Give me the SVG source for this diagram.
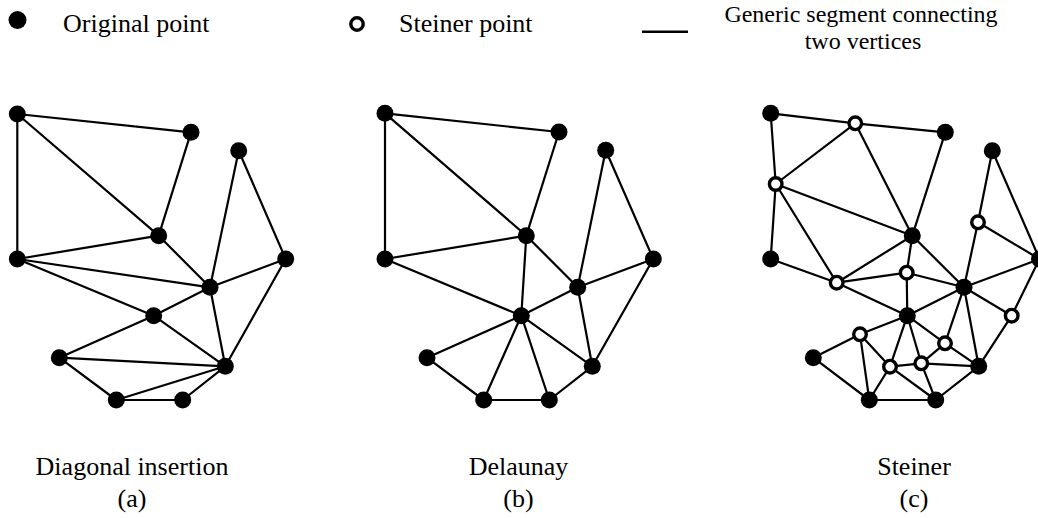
<svg xmlns="http://www.w3.org/2000/svg" width="1038" height="518" viewBox="0 0 1038 518">
  <style>
    .edge line { stroke: #000; stroke-width: 2.2; stroke-linecap: round; }
    .orig { fill: #000; }
    .stein { fill: #fff; stroke: #000; stroke-width: 3.4; }
    .lbl { font-family: 'Liberation Serif', 'Times New Roman', 'DejaVu Serif', serif; font-size: 26px; fill: #000; }
    .mid { text-anchor: middle; }
    .two-line { font-size: 24px; }
  </style>
  <rect width="1038" height="518" fill="#fff"/>

  <!-- Legend -->
  <g id="legend" class="lbl" font-family="Liberation Serif, Times New Roman, serif">
    <g id="legend-original">
      <circle class="orig" cx="17.5" cy="20" r="9"/>
      <text x="63" y="32">Original point</text>
    </g>
    <g id="legend-steiner">
      <circle class="stein" cx="357" cy="24" r="6.2" stroke-width="3.6"/>
      <text x="399" y="32">Steiner point</text>
    </g>
    <g id="legend-segment">
      <line x1="642" y1="31.7" x2="688" y2="31.7" stroke="#000" stroke-width="2.5"/>
      <text class="mid two-line" x="861" y="22">Generic segment connecting</text>
      <text class="mid two-line" x="863" y="49">two vertices</text>
    </g>
  </g>

  <!-- (a) Diagonal insertion -->
  <g id="connectors-a" class="edge">
    <line x1="17.3" y1="114" x2="191" y2="132.3"/>
    <line x1="17.3" y1="114" x2="17.3" y2="259"/>
    <line x1="17.3" y1="114" x2="158.7" y2="235.7"/>
    <line x1="191" y1="132.3" x2="158.7" y2="235.7"/>
    <line x1="238.7" y1="150.7" x2="210" y2="287.3"/>
    <line x1="238.7" y1="150.7" x2="285.7" y2="259"/>
    <line x1="158.7" y1="235.7" x2="17.3" y2="259"/>
    <line x1="158.7" y1="235.7" x2="210" y2="287.3"/>
    <line x1="17.3" y1="259" x2="210" y2="287.3"/>
    <line x1="17.3" y1="259" x2="153.7" y2="315.7"/>
    <line x1="285.7" y1="259" x2="210" y2="287.3"/>
    <line x1="285.7" y1="259" x2="225.3" y2="366.3"/>
    <line x1="210" y1="287.3" x2="153.7" y2="315.7"/>
    <line x1="210" y1="287.3" x2="225.3" y2="366.3"/>
    <line x1="153.7" y1="315.7" x2="59.3" y2="357.7"/>
    <line x1="153.7" y1="315.7" x2="225.3" y2="366.3"/>
    <line x1="59.3" y1="357.7" x2="225.3" y2="366.3"/>
    <line x1="59.3" y1="357.7" x2="116.3" y2="400"/>
    <line x1="116.3" y1="400" x2="225.3" y2="366.3"/>
    <line x1="116.3" y1="400" x2="182.7" y2="400"/>
    <line x1="182.7" y1="400" x2="225.3" y2="366.3"/>
  </g>
  <g id="nodes-a">
    <g id="a1"><circle class="orig" cx="17.3" cy="114" r="8.5"/></g>
    <g id="a2"><circle class="orig" cx="191" cy="132.3" r="8.5"/></g>
    <g id="a3"><circle class="orig" cx="238.7" cy="150.7" r="8.5"/></g>
    <g id="a4"><circle class="orig" cx="158.7" cy="235.7" r="8.5"/></g>
    <g id="a5"><circle class="orig" cx="17.3" cy="259" r="8.5"/></g>
    <g id="a6"><circle class="orig" cx="285.7" cy="259" r="8.5"/></g>
    <g id="a7"><circle class="orig" cx="210" cy="287.3" r="8.5"/></g>
    <g id="a8"><circle class="orig" cx="153.7" cy="315.7" r="8.5"/></g>
    <g id="a9"><circle class="orig" cx="59.3" cy="357.7" r="8.5"/></g>
    <g id="a10"><circle class="orig" cx="225.3" cy="366.3" r="8.5"/></g>
    <g id="a11"><circle class="orig" cx="116.3" cy="400" r="8.5"/></g>
    <g id="a12"><circle class="orig" cx="182.7" cy="400" r="8.5"/></g>
  </g>
  <g id="caption-a" class="lbl mid" font-family="Liberation Serif, Times New Roman, serif">
    <text x="132" y="475">Diagonal insertion</text>
    <text x="132" y="507">(a)</text>
  </g>

  <!-- (b) Delaunay -->
  <g id="connectors-b" class="edge">
    <line x1="385" y1="113.3" x2="559" y2="132"/>
    <line x1="385" y1="113.3" x2="385" y2="259"/>
    <line x1="385" y1="113.3" x2="526.3" y2="235.7"/>
    <line x1="559" y1="132" x2="526.3" y2="235.7"/>
    <line x1="605.7" y1="150.3" x2="577.7" y2="287.3"/>
    <line x1="605.7" y1="150.3" x2="653.3" y2="259"/>
    <line x1="526.3" y1="235.7" x2="385" y2="259"/>
    <line x1="526.3" y1="235.7" x2="521.3" y2="315.7"/>
    <line x1="526.3" y1="235.7" x2="577.7" y2="287.3"/>
    <line x1="385" y1="259" x2="521.3" y2="315.7"/>
    <line x1="653.3" y1="259" x2="577.7" y2="287.3"/>
    <line x1="653.3" y1="259" x2="592.3" y2="366.3"/>
    <line x1="577.7" y1="287.3" x2="521.3" y2="315.7"/>
    <line x1="577.7" y1="287.3" x2="592.3" y2="366.3"/>
    <line x1="521.3" y1="315.7" x2="427" y2="357.7"/>
    <line x1="521.3" y1="315.7" x2="483.7" y2="400"/>
    <line x1="521.3" y1="315.7" x2="549.3" y2="400"/>
    <line x1="521.3" y1="315.7" x2="592.3" y2="366.3"/>
    <line x1="427" y1="357.7" x2="483.7" y2="400"/>
    <line x1="483.7" y1="400" x2="549.3" y2="400"/>
    <line x1="549.3" y1="400" x2="592.3" y2="366.3"/>
  </g>
  <g id="nodes-b">
    <g id="b1"><circle class="orig" cx="385" cy="113.3" r="8.5"/></g>
    <g id="b2"><circle class="orig" cx="559" cy="132" r="8.5"/></g>
    <g id="b3"><circle class="orig" cx="605.7" cy="150.3" r="8.5"/></g>
    <g id="b4"><circle class="orig" cx="526.3" cy="235.7" r="8.5"/></g>
    <g id="b5"><circle class="orig" cx="385" cy="259" r="8.5"/></g>
    <g id="b6"><circle class="orig" cx="653.3" cy="259" r="8.5"/></g>
    <g id="b7"><circle class="orig" cx="577.7" cy="287.3" r="8.5"/></g>
    <g id="b8"><circle class="orig" cx="521.3" cy="315.7" r="8.5"/></g>
    <g id="b9"><circle class="orig" cx="427" cy="357.7" r="8.5"/></g>
    <g id="b10"><circle class="orig" cx="592.3" cy="366.3" r="8.5"/></g>
    <g id="b11"><circle class="orig" cx="483.7" cy="400" r="8.5"/></g>
    <g id="b12"><circle class="orig" cx="549.3" cy="400" r="8.5"/></g>
  </g>
  <g id="caption-b" class="lbl mid" font-family="Liberation Serif, Times New Roman, serif">
    <text x="518.5" y="475">Delaunay</text>
    <text x="518.5" y="507">(b)</text>
  </g>

  <!-- (c) Steiner -->
  <g id="connectors-c" class="edge">
    <line x1="770.7" y1="113.3" x2="855.3" y2="123.3"/>
    <line x1="855.3" y1="123.3" x2="945.3" y2="132.3"/>
    <line x1="770.7" y1="113.3" x2="775.7" y2="184"/>
    <line x1="775.7" y1="184" x2="770.7" y2="259"/>
    <line x1="855.3" y1="123.3" x2="775.7" y2="184"/>
    <line x1="855.3" y1="123.3" x2="912.3" y2="235.7"/>
    <line x1="945.3" y1="132.3" x2="912.3" y2="235.7"/>
    <line x1="775.7" y1="184" x2="912.3" y2="235.7"/>
    <line x1="775.7" y1="184" x2="836.7" y2="282.7"/>
    <line x1="770.7" y1="259" x2="836.7" y2="282.7"/>
    <line x1="836.7" y1="282.7" x2="912.3" y2="235.7"/>
    <line x1="836.7" y1="282.7" x2="906.7" y2="272.7"/>
    <line x1="836.7" y1="282.7" x2="907.3" y2="315.7"/>
    <line x1="912.3" y1="235.7" x2="906.7" y2="272.7"/>
    <line x1="912.3" y1="235.7" x2="964" y2="287.3"/>
    <line x1="906.7" y1="272.7" x2="964" y2="287.3"/>
    <line x1="906.7" y1="272.7" x2="907.3" y2="315.7"/>
    <line x1="992.3" y1="150.7" x2="978" y2="222.3"/>
    <line x1="992.3" y1="150.7" x2="1039.5" y2="259"/>
    <line x1="978" y1="222.3" x2="964" y2="287.3"/>
    <line x1="978" y1="222.3" x2="1039.5" y2="259"/>
    <line x1="1039.5" y1="259" x2="964" y2="287.3"/>
    <line x1="1039.5" y1="259" x2="1011.7" y2="315.7"/>
    <line x1="964" y1="287.3" x2="1011.7" y2="315.7"/>
    <line x1="964" y1="287.3" x2="907.3" y2="315.7"/>
    <line x1="964" y1="287.3" x2="945" y2="343.3"/>
    <line x1="964" y1="287.3" x2="978.7" y2="366.3"/>
    <line x1="1011.7" y1="315.7" x2="978.7" y2="366.3"/>
    <line x1="907.3" y1="315.7" x2="860" y2="334.3"/>
    <line x1="907.3" y1="315.7" x2="890" y2="366.7"/>
    <line x1="907.3" y1="315.7" x2="921.3" y2="363.3"/>
    <line x1="907.3" y1="315.7" x2="945" y2="343.3"/>
    <line x1="860" y1="334.3" x2="813.3" y2="357.7"/>
    <line x1="860" y1="334.3" x2="890" y2="366.7"/>
    <line x1="860" y1="334.3" x2="869.3" y2="400"/>
    <line x1="813.3" y1="357.7" x2="869.3" y2="400"/>
    <line x1="890" y1="366.7" x2="869.3" y2="400"/>
    <line x1="890" y1="366.7" x2="921.3" y2="363.3"/>
    <line x1="890" y1="366.7" x2="935.7" y2="400"/>
    <line x1="921.3" y1="363.3" x2="945" y2="343.3"/>
    <line x1="921.3" y1="363.3" x2="935.7" y2="400"/>
    <line x1="921.3" y1="363.3" x2="978.7" y2="366.3"/>
    <line x1="945" y1="343.3" x2="978.7" y2="366.3"/>
    <line x1="869.3" y1="400" x2="935.7" y2="400"/>
    <line x1="935.7" y1="400" x2="978.7" y2="366.3"/>
  </g>
  <g id="nodes-c">
    <g id="c1"><circle class="orig" cx="770.7" cy="113.3" r="8.5"/></g>
    <g id="c2"><circle class="orig" cx="945.3" cy="132.3" r="8.5"/></g>
    <g id="c3"><circle class="orig" cx="992.3" cy="150.7" r="8.5"/></g>
    <g id="c4"><circle class="orig" cx="912.3" cy="235.7" r="8.5"/></g>
    <g id="c5"><circle class="orig" cx="770.7" cy="259" r="8.5"/></g>
    <g id="c6"><circle class="orig" cx="1039.5" cy="259" r="8.5"/></g>
    <g id="c7"><circle class="orig" cx="964" cy="287.3" r="8.5"/></g>
    <g id="c8"><circle class="orig" cx="907.3" cy="315.7" r="8.5"/></g>
    <g id="c9"><circle class="orig" cx="813.3" cy="357.7" r="8.5"/></g>
    <g id="c10"><circle class="orig" cx="978.7" cy="366.3" r="8.5"/></g>
    <g id="c11"><circle class="orig" cx="869.3" cy="400" r="8.5"/></g>
    <g id="c12"><circle class="orig" cx="935.7" cy="400" r="8.5"/></g>
    <g id="s1"><circle class="stein" cx="855.3" cy="123.3" r="6.3"/></g>
    <g id="s2"><circle class="stein" cx="775.7" cy="184" r="6.3"/></g>
    <g id="s3"><circle class="stein" cx="978" cy="222.3" r="6.3"/></g>
    <g id="s4"><circle class="stein" cx="906.7" cy="272.7" r="6.3"/></g>
    <g id="s5"><circle class="stein" cx="836.7" cy="282.7" r="6.3"/></g>
    <g id="s6"><circle class="stein" cx="1011.7" cy="315.7" r="6.3"/></g>
    <g id="s7"><circle class="stein" cx="860" cy="334.3" r="6.3"/></g>
    <g id="s8"><circle class="stein" cx="945" cy="343.3" r="6.3"/></g>
    <g id="s9"><circle class="stein" cx="890" cy="366.7" r="6.3"/></g>
    <g id="s10"><circle class="stein" cx="921.3" cy="363.3" r="6.3"/></g>
  </g>
  <g id="caption-c" class="lbl mid" font-family="Liberation Serif, Times New Roman, serif">
    <text x="914" y="475">Steiner</text>
    <text x="914" y="507">(c)</text>
  </g>
</svg>
